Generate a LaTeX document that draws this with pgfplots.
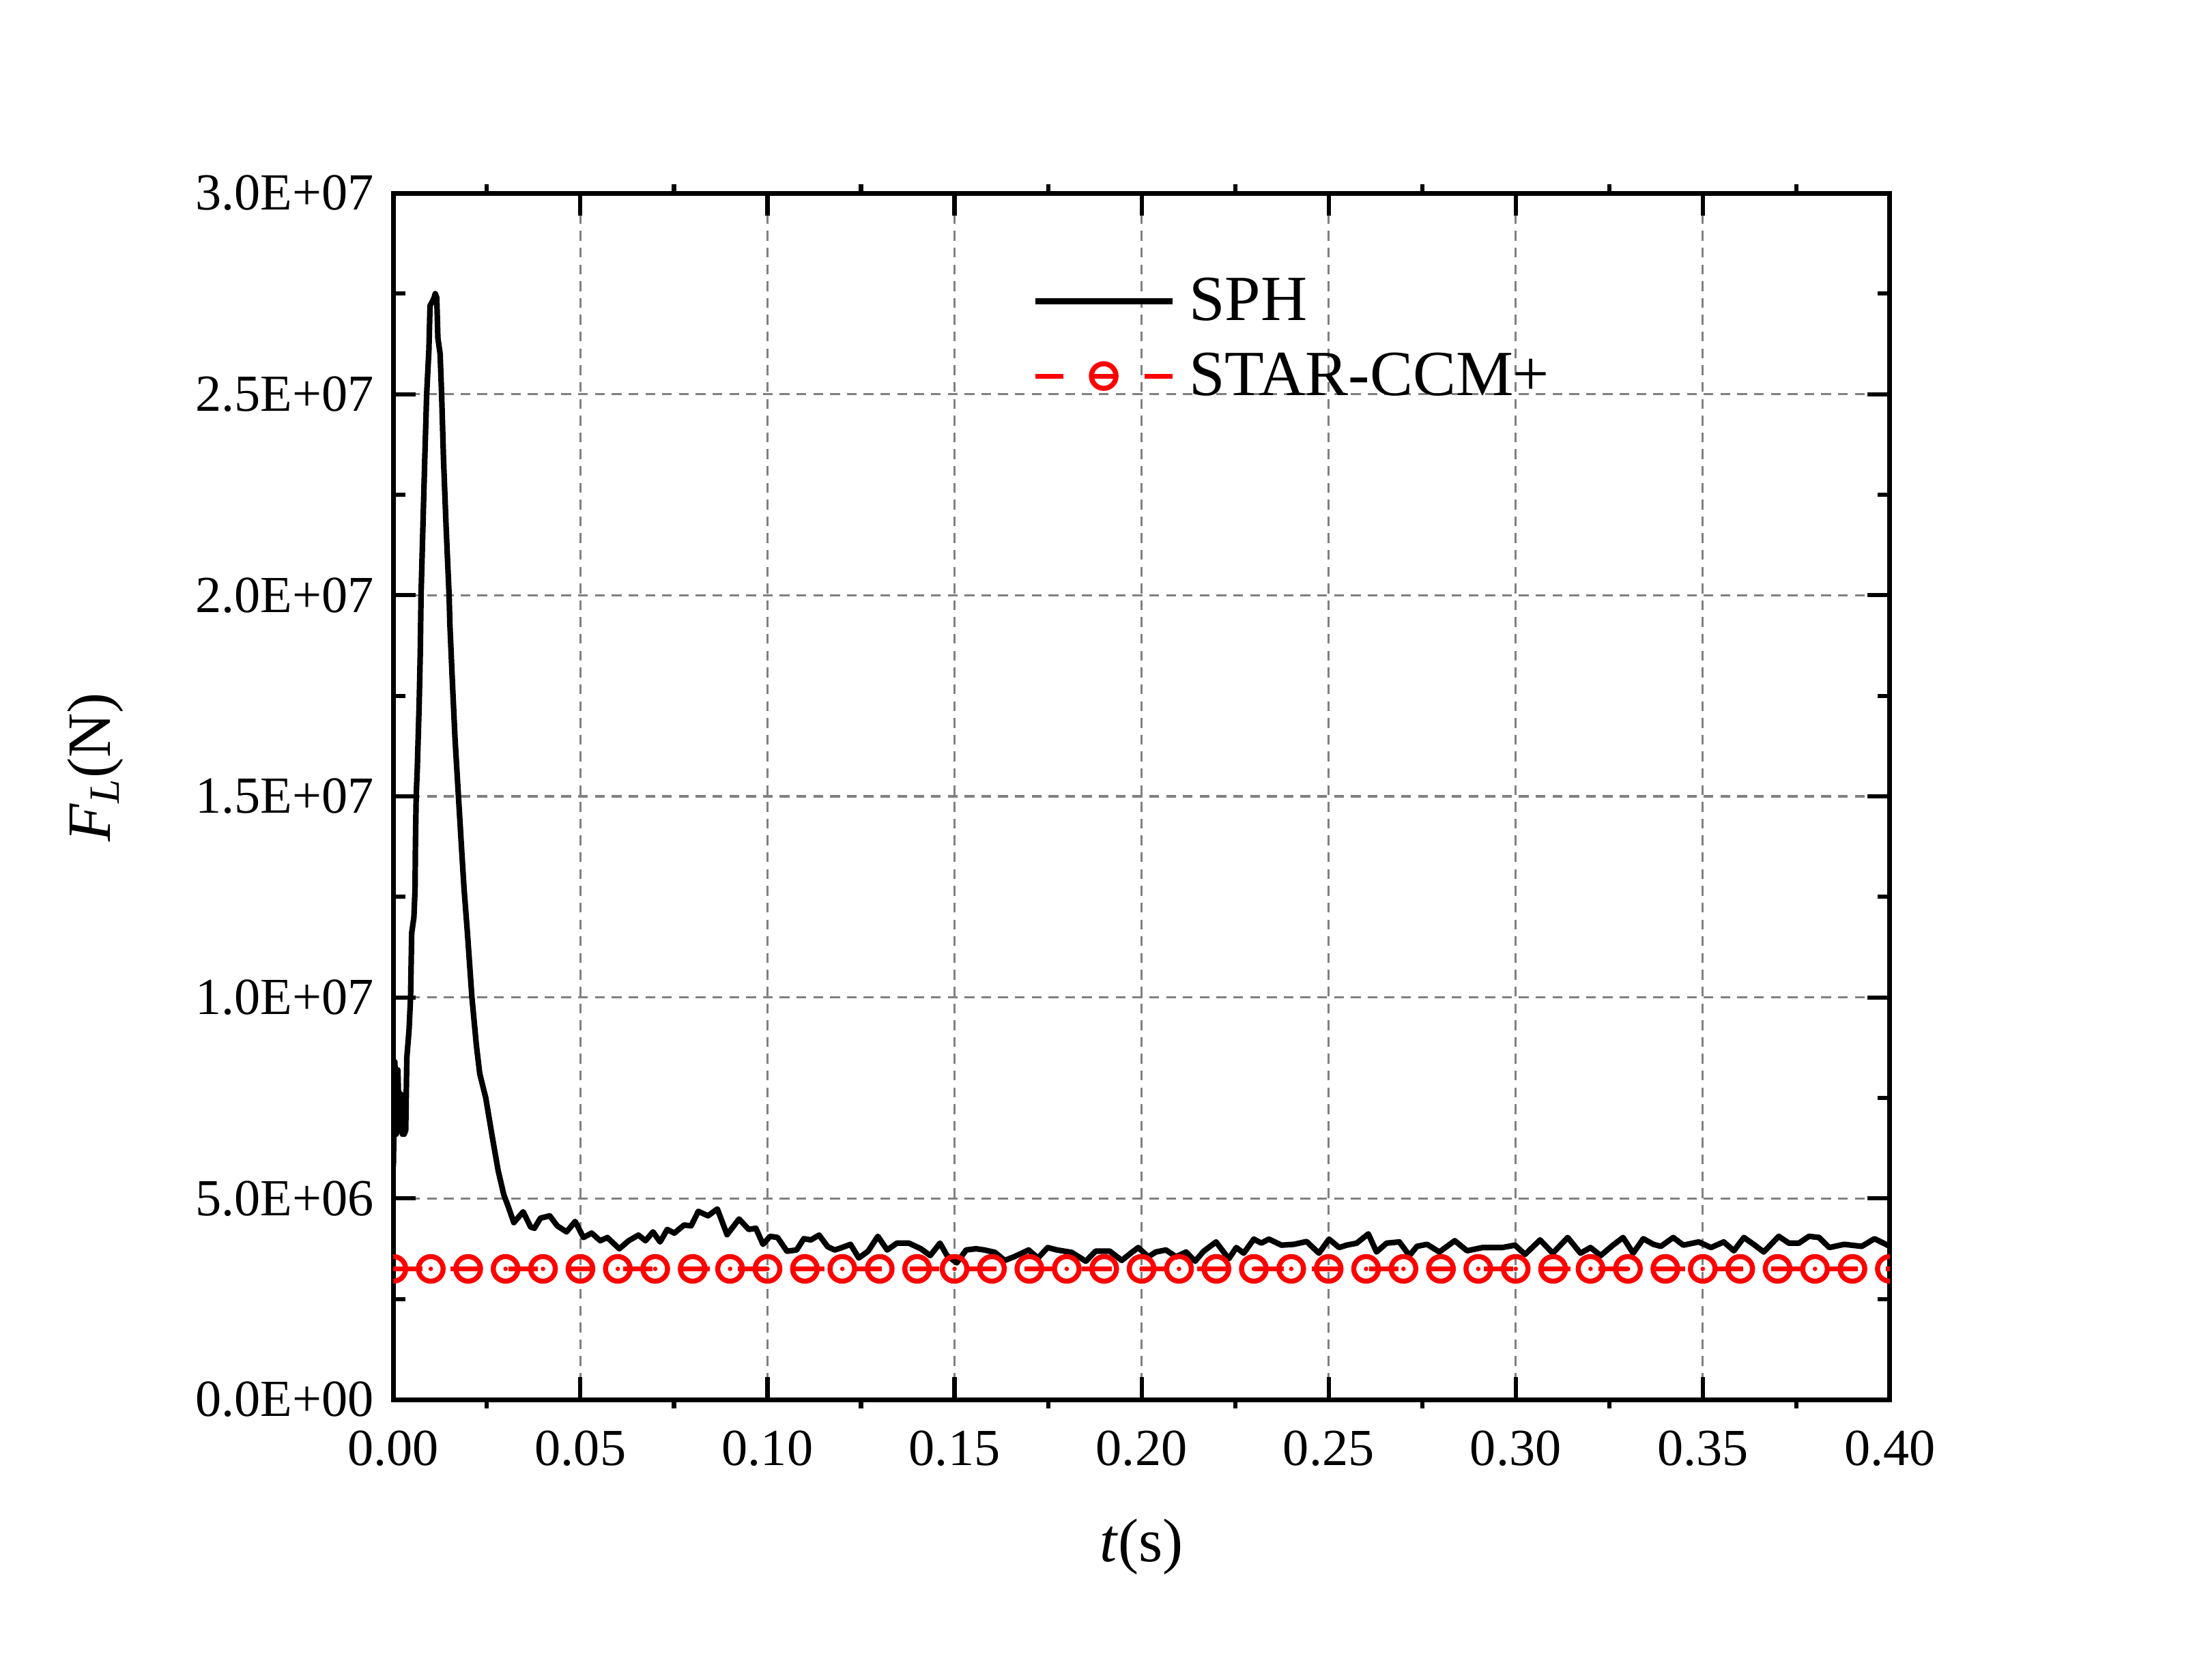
\documentclass[border=0pt]{standalone}
\usepackage{fontspec}
\setmainfont{Liberation Serif}
\usepackage{pgfplots}
\pgfplotsset{compat=1.18}
\pgfdeclareplotmark{circdot}{%
  \pgfpathcircle{\pgfpointorigin}{\pgfplotmarksize}\pgfusepathqstroke
  \pgfpathcircle{\pgfpointorigin}{0.8pt}\pgfusepathqfill}
\pgfplotsset{
  sphleg/.style={legend image code/.code={\draw[##1] (0pt,0pt) -- (49pt,0pt); \path (54pt,0pt);}},
  starleg/.style={legend image code/.code={\draw[mark repeat=2, mark phase=2, ##1, dash pattern=on 10pt off 29pt]
    plot coordinates {(0pt,0pt) (24.5pt,0pt) (49pt,0pt)};
    \draw[##1, solid] (20.6pt,0pt) -- (28.4pt,0pt); \path (54pt,0pt);}},
}
\begin{document}
\begin{tikzpicture}
\path[use as bounding box] (-140.5pt,-100pt) rectangle (643.5pt,500pt);
\begin{axis}[
  at={(0pt,0pt)}, anchor=south west,
  scale only axis, width=534.5pt, height=431pt,
  xmin=0, xmax=0.4, ymin=0, ymax=3e7,
  scaled x ticks=false, scaled y ticks=false,
  xtick={0,0.05,0.1,0.15,0.2,0.25,0.3,0.35,0.4},
  xticklabels={0.00,0.05,0.10,0.15,0.20,0.25,0.30,0.35,0.40},
  ytick={0,5e6,1e7,1.5e7,2e7,2.5e7,3e7},
  yticklabels={0.0E+00,5.0E+06,1.0E+07,1.5E+07,2.0E+07,2.5E+07,3.0E+07},
  minor y tick num=1,
  extra x ticks={0.025,0.075,0.125,0.175,0.225,0.275,0.325,0.375},
  extra x tick labels={},
  extra x tick style={grid=none, tick align=outside, major tick length=3.2pt},
  tick align=inside, major tick length=8pt, minor tick length=4.3pt,
  tick style={black, line width=1.5pt},
  axis line style={line width=1.7pt},
  grid=major,
  major grid style={draw=black!50, line width=0.8pt, dash pattern=on 3.5pt off 2.5pt},
  /pgf/number format/assume math mode=true,
  tick label style={font=\fontsize{18.6}{21}\selectfont},
  yticklabel style={xshift=-3.5pt},
  xticklabel style={yshift=-7.5pt},
  label style={font=\fontsize{22}{26}\selectfont},
  xlabel={\textit{t}(s)},
  ylabel={\textit{F}\textsubscript{\textit{L}}(N)},
  xlabel style={at={(axis description cs:0.5,-0.1218)}, anchor=center},
  ylabel style={at={(axis description cs:-0.199,0.524)}, anchor=center},
  clip marker paths=true,
  legend style={at={(axis description cs:0.4266,0.8794)}, anchor=west, draw=none, fill=none,
    font=\fontsize{23}{27}\selectfont, row sep=10pt, inner sep=0pt, nodes={inner sep=0pt}},
  legend cell align=left,
]
\addplot[black, line width=2pt, line join=round, sphleg] coordinates {
(0.0000,5.8e6) (0.0004,8.4e6) (0.0008,6.6e6) (0.0012,8.2e6) (0.0016,6.7e6) (0.0020,7.6e6)
(0.0024,6.6e6) (0.0029,6.6e6) (0.0033,6.7e6) (0.0036,8.5e6) (0.0042,9.2e6) (0.0046,10.0e6)
(0.0049,11.6e6) (0.0055,12.0e6) (0.0058,12.7e6) (0.0059,13.8e6) (0.0061,15.0e6) (0.0064,15.7e6)
(0.0069,17.3e6) (0.0072,18.6e6) (0.0074,20.0e6) (0.0079,21.7e6) (0.0084,23.4e6) (0.0089,25.0e6)
(0.0095,26.1e6) (0.0098,27.2e6) (0.0104,27.3e6) (0.0109,27.4e6) (0.0112,27.5e6) (0.0116,27.4e6)
(0.0119,26.4e6) (0.0125,26.0e6) (0.0129,25.0e6) (0.0134,23.4e6) (0.0141,21.7e6) (0.0149,20.0e6)
(0.0151,19.3e6) (0.0158,17.8e6) (0.0165,16.4e6) (0.0174,15.0e6) (0.0183,13.6e6) (0.0189,12.7e6)
(0.0198,11.6e6) (0.0210,10.0e6) (0.0222,8.8e6) (0.0231,8.1e6) (0.0247,7.5e6) (0.0265,6.5e6)
(0.0280,5.7e6) (0.0295,5.1e6) (0.0307,4.8e6) (0.0322,4.40e6) (0.0347,4.67e6) (0.0367,4.29e6)
(0.0377,4.26e6) (0.0393,4.51e6) (0.0418,4.57e6) (0.0438,4.32e6) (0.0463,4.17e6) (0.0486,4.43e6)
(0.0508,4.03e6) (0.0530,4.14e6) (0.0553,3.95e6) (0.0572,4.03e6) (0.0604,3.75e6) (0.0629,3.95e6)
(0.0655,4.09e6) (0.0674,3.95e6) (0.0694,4.17e6) (0.0713,3.92e6) (0.0732,4.23e6) (0.0751,4.14e6)
(0.0777,4.34e6) (0.0796,4.32e6) (0.0815,4.68e6) (0.0841,4.57e6) (0.0866,4.74e6) (0.0892,4.10e6)
(0.0924,4.49e6) (0.0950,4.23e6) (0.0969,4.26e6) (0.0988,3.86e6) (0.1007,4.06e6) (0.1027,4.03e6)
(0.1052,3.69e6) (0.1078,3.72e6) (0.1097,4.00e6) (0.1116,3.97e6) (0.1138,4.09e6) (0.1161,3.80e6)
(0.1180,3.72e6) (0.1199,3.78e6) (0.1222,3.86e6) (0.1244,3.52e6) (0.1269,3.69e6) (0.1295,4.06e6)
(0.1320,3.72e6) (0.1346,3.89e6) (0.1378,3.89e6) (0.1410,3.75e6) (0.1435,3.58e6) (0.1461,3.89e6)
(0.1480,3.58e6) (0.1506,3.40e6) (0.1531,3.72e6) (0.1557,3.75e6) (0.1580,3.72e6) (0.1608,3.66e6)
(0.1634,3.46e6) (0.1659,3.55e6) (0.1698,3.72e6) (0.1723,3.52e6) (0.1749,3.78e6) (0.1774,3.72e6)
(0.1813,3.66e6) (0.1851,3.44e6) (0.1877,3.69e6) (0.1915,3.69e6) (0.1947,3.46e6) (0.1971,3.64e6)
(0.1991,3.78e6) (0.2018,3.55e6) (0.2038,3.67e6) (0.2065,3.72e6) (0.2092,3.55e6) (0.2119,3.67e6)
(0.2143,3.44e6) (0.2166,3.69e6) (0.2199,3.92e6) (0.2233,3.50e6) (0.2253,3.78e6) (0.2273,3.64e6)
(0.2300,3.99e6) (0.2320,3.89e6) (0.2340,3.99e6) (0.2374,3.84e6) (0.2407,3.86e6) (0.2441,3.93e6)
(0.2474,3.64e6) (0.2501,3.99e6) (0.2528,3.78e6) (0.2548,3.84e6) (0.2575,3.89e6) (0.2606,4.12e6)
(0.2628,3.67e6) (0.2655,3.89e6) (0.2689,3.92e6) (0.2716,3.58e6) (0.2736,3.81e6) (0.2763,3.86e6)
(0.2796,3.67e6) (0.2837,3.95e6) (0.2870,3.70e6) (0.2911,3.78e6) (0.2964,3.78e6) (0.2998,3.84e6)
(0.3025,3.61e6) (0.3065,3.97e6) (0.3099,3.64e6) (0.3139,4.03e6) (0.3173,3.64e6) (0.3200,3.78e6)
(0.3227,3.58e6) (0.3260,3.84e6) (0.3287,4.03e6) (0.3314,3.64e6) (0.3341,4.00e6) (0.3368,3.86e6)
(0.3388,3.81e6) (0.3421,4.03e6) (0.3448,3.84e6) (0.3489,3.92e6) (0.3522,3.78e6) (0.3556,3.92e6)
(0.3583,3.70e6) (0.3610,4.03e6) (0.3636,3.86e6) (0.3663,3.67e6) (0.3703,4.06e6) (0.3730,3.89e6)
(0.3757,3.89e6) (0.3784,4.06e6) (0.3811,4.03e6) (0.3838,3.78e6) (0.3878,3.86e6) (0.3925,3.81e6)
(0.3959,4.00e6) (0.4000,3.81e6)
};
\addlegendentry{SPH}
\addplot[red, line width=1.7pt, dash pattern=on 10.5pt off 10pt,
  mark=circdot, mark size=4.4pt, mark options={solid, line width=1.8pt}, starleg] coordinates {
(0.00,3.25e6) (0.01,3.25e6) (0.02,3.25e6) (0.03,3.25e6) (0.04,3.25e6) (0.05,3.25e6)
(0.06,3.25e6) (0.07,3.25e6) (0.08,3.25e6) (0.09,3.25e6) (0.10,3.25e6) (0.11,3.25e6)
(0.12,3.25e6) (0.13,3.25e6) (0.14,3.25e6) (0.15,3.25e6) (0.16,3.25e6) (0.17,3.25e6)
(0.18,3.25e6) (0.19,3.25e6) (0.20,3.25e6) (0.21,3.25e6) (0.22,3.25e6) (0.23,3.25e6)
(0.24,3.25e6) (0.25,3.25e6) (0.26,3.25e6) (0.27,3.25e6) (0.28,3.25e6) (0.29,3.25e6)
(0.30,3.25e6) (0.31,3.25e6) (0.32,3.25e6) (0.33,3.25e6) (0.34,3.25e6) (0.35,3.25e6)
(0.36,3.25e6) (0.37,3.25e6) (0.38,3.25e6) (0.39,3.25e6) (0.40,3.25e6)
};
\addlegendentry{STAR-CCM+}
\end{axis}
\end{tikzpicture}
\end{document}
